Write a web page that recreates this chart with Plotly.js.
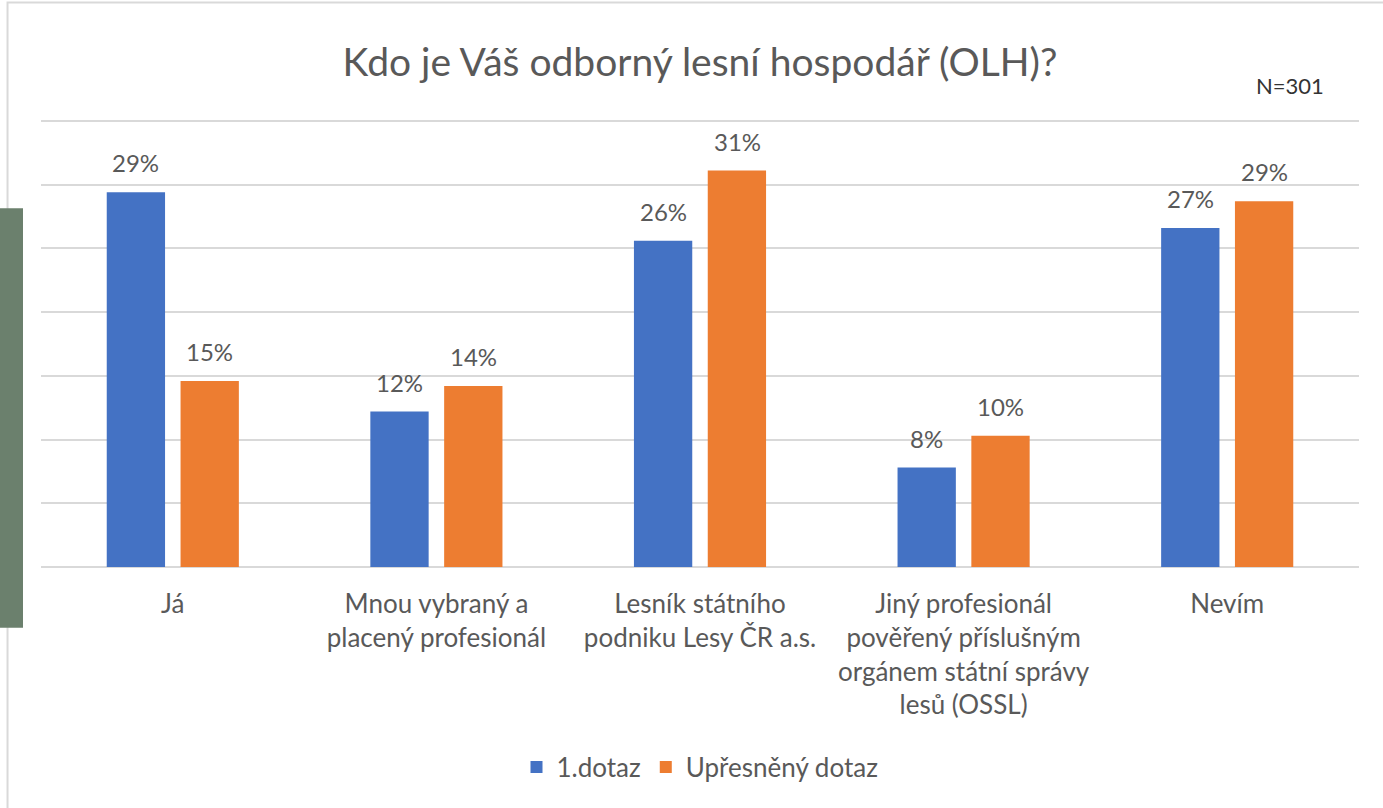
<!DOCTYPE html>
<html>
<head>
<meta charset="utf-8">
<script src="https://cdn.plot.ly/plotly-3.0.1.min.js"></script>
<style>html,body{margin:0;padding:0;background:#fff;}#chart{width:1383px;height:808px;}</style>
</head>
<body>
<div id="chart"></div>
<script>
const categories = [
  "Já",
  "Mnou vybraný a<br>placený profesionál",
  "Lesník státního<br>podniku Lesy ČR a.s.",
  "Jiný profesionál<br>pověřený příslušným<br>orgánem státní správy<br>lesů (OSSL)",
  "Nevím"
];
const seriesNames = ["1.dotaz", "Upřesněný dotaz"];
const firstQuery = [29.4, 12.2, 25.6, 7.8, 26.6];
const refinedQuery = [14.6, 14.2, 31.1, 10.3, 28.7];
const yTicks = [0, 5, 10, 15, 20, 25, 30, 35];

const FONT = "Lato, 'Open Sans', sans-serif";
const GREY = "#595959";

const traces = [
  {type: "bar", name: seriesNames[0], x: categories, y: firstQuery,
   marker: {color: "#4472c4"}, hoverinfo: "skip"},
  {type: "bar", name: seriesNames[1], x: categories, y: refinedQuery,
   marker: {color: "#ed7d31"}, hoverinfo: "skip"}
];

const annotations = [];
[firstQuery, refinedQuery].forEach((vals, si) => {
  vals.forEach((v, i) => {
    annotations.push({
      x: categories[i], y: v, xref: "x", yref: "y",
      text: Math.round(v) + "%", showarrow: false,
      xshift: si === 0 ? -37 : 37, yanchor: "bottom", yshift: 13,
      font: {family: FONT, size: 24, color: GREY}
    });
  });
});
annotations.push({
  xref: "paper", yref: "paper", x: 0.948, y: 1.074,
  text: "N=301", showarrow: false, xanchor: "center", yanchor: "middle",
  font: {family: FONT, size: 22, color: "#333333"}
});

const layout = {
  width: 1383, height: 808,
  margin: {l: 41, r: 24, t: 119.1, b: 240.5},
  paper_bgcolor: "#ffffff", plot_bgcolor: "#ffffff",
  font: {family: FONT, color: GREY},
  title: {text: "Kdo je Váš odborný lesní hospodář (OLH)?",
          x: 0.5, xref: "paper", y: 0.923, yref: "container", yanchor: "middle",
          font: {family: FONT, size: 39, color: GREY}},
  barmode: "group", bargap: 0.44, bargroupgap: 0.21,
  xaxis: {showline: false, ticks: "", tickfont: {family: FONT, size: 26, color: GREY},
          ticklabelstandoff: 19, fixedrange: true},
  yaxis: {range: [0, 35.15], tickvals: yTicks, showticklabels: false,
          showgrid: true, gridcolor: "#d9d9d9", gridwidth: 2,
          zeroline: true, zerolinecolor: "#d9d9d9", zerolinewidth: 2,
          showline: false, fixedrange: true},
  legend: {orientation: "h", x: 0.5, xanchor: "center", y: -0.4468, yanchor: "middle",
           itemwidth: 30,
           font: {family: FONT, size: 26, color: GREY}},
  annotations: annotations,
  shapes: [
    {type: "rect", xref: "paper", yref: "paper", x0: -0.0254, x1: 1.06, y0: -0.7, y1: 1.26,
     line: {color: "#d9d9d9", width: 2}, fillcolor: "rgba(0,0,0,0)", layer: "below"},
    {type: "rect", xref: "paper", yref: "paper", x0: -0.04, x1: -0.01366, y0: -0.1355, y1: 0.8007,
     line: {width: 0}, fillcolor: "#6b806d", layer: "above"}
  ],
  showlegend: true
};

Plotly.newPlot("chart", traces, layout, {displayModeBar: false, staticPlot: true});
</script>
</body>
</html>
